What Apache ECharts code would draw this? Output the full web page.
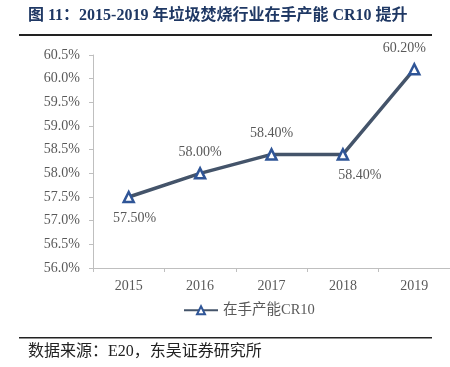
<!DOCTYPE html>
<html>
<head>
<meta charset="utf-8">
<script src="https://cdn.jsdelivr.net/npm/echarts@6/dist/echarts.min.js"></script>
<style>
  html, body { margin: 0; padding: 0; background: #fff; }
  #main { width: 450px; height: 367px; }
</style>
</head>
<body>
<div id="main"></div>
<script>
// 数据
var years = ['2015', '2016', '2017', '2018', '2019'];
var cr10 = [57.5, 58.0, 58.4, 58.4, 60.2];
var yTicks = { min: 56, max: 60.5, step: 0.5 };
// 标签位置：上 / 下
var labelPos = ['bottom', 'top', 'top', 'bottom', 'top'];
var labelShift = [6, 0, 0, 17, -10];

var serif = 'Liberation Serif, "Times New Roman", "Noto Sans CJK SC", serif';
var grey = '#595959';

var myChart = echarts.init(document.getElementById('main'));

var seriesData = [];
for (var i = 0; i < cr10.length; i++) {
  seriesData.push({
    value: cr10[i],
    label: { position: labelPos[i], offset: [labelShift[i], 0] }
  });
}

var option = {
  backgroundColor: '#fff',
  animation: false,
  graphic: [
    { type: 'text', left: 28, top: 8,
      style: { text: '图 11：2015-2019 年垃圾焚烧行业在手产能 CR10 提升',
        font: 'bold 16px ' + serif, fill: '#1f3864' } },
    { type: 'rect', shape: { x: 19, y: 34, width: 413, height: 2 }, style: { fill: '#222' } },
    { type: 'rect', shape: { x: 19, y: 337, width: 413, height: 1.5 }, style: { fill: '#222' } },
    { type: 'text', left: 28, top: 344,
      style: { text: '数据来源：E20，东吴证券研究所', font: '16px ' + serif, fill: '#222' } }
  ],
  grid: { left: 93, right: -3, top: 55, bottom: 99 },
  legend: {
    data: ['在手产能CR10'],
    left: 178, top: 298,
    itemWidth: 34, itemHeight: 10, itemGap: 6,
    textStyle: { color: grey, fontSize: 14.5, fontFamily: serif }
  },
  xAxis: {
    type: 'category',
    data: years,
    boundaryGap: true,
    axisLine: { lineStyle: { color: '#bfbfbf', width: 1 } },
    axisTick: { show: true, length: 4, lineStyle: { color: '#bfbfbf' } },
    axisLabel: { color: grey, fontSize: 14, fontFamily: serif, margin: 11 }
  },
  yAxis: {
    type: 'value',
    min: yTicks.min, max: yTicks.max, interval: yTicks.step,
    axisLine: { show: true, lineStyle: { color: '#bfbfbf', width: 1 } },
    axisTick: { show: true, length: 4, lineStyle: { color: '#bfbfbf' } },
    splitLine: { show: false },
    axisLabel: { color: grey, fontSize: 14, fontFamily: serif, margin: 13,
      formatter: function (v) { return v.toFixed(1) + '%'; } }
  },
  series: [{
    name: '在手产能CR10',
    type: 'line',
    data: seriesData,
    symbol: 'triangle',
    symbolSize: 10,
    lineStyle: { color: '#44546a', width: 3.5 },
    itemStyle: { color: '#fff', borderColor: '#2f5597', borderWidth: 2.5 },
    label: {
      show: true, distance: 8, color: grey, fontSize: 14, fontFamily: serif,
      formatter: function (p) { return p.value.toFixed(2) + '%'; }
    }
  }]
};

myChart.setOption(option);
</script>
</body>
</html>
